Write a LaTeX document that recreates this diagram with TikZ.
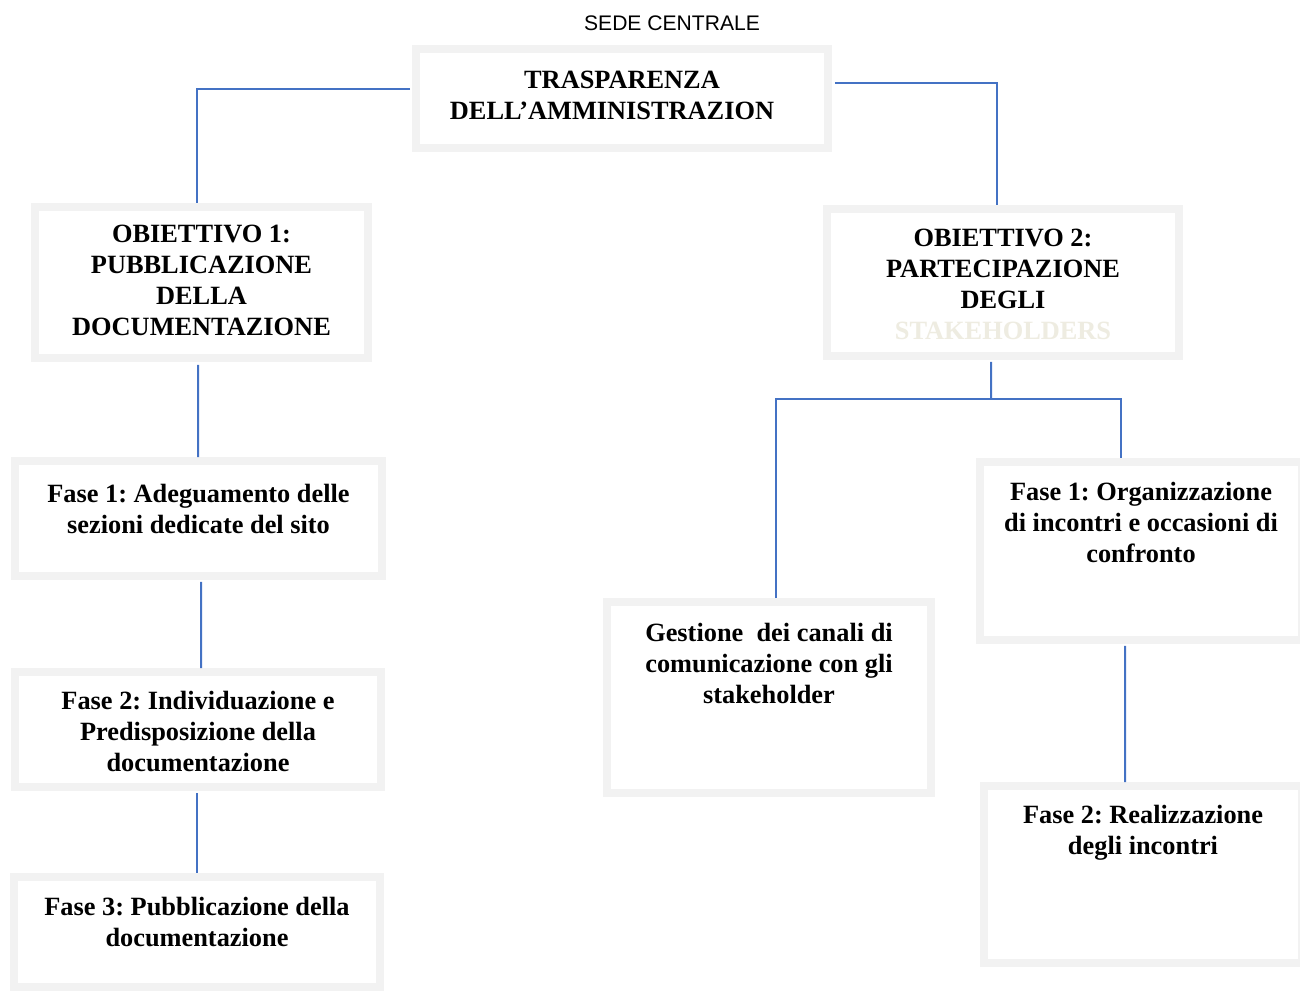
\documentclass[tikz,border=0pt]{standalone}
\usepackage{fontspec}
\setmainfont{Liberation Serif}
\setsansfont{Liberation Sans}
\usetikzlibrary{positioning}
\definecolor{framegray}{RGB}{242,242,242}
\definecolor{linkblue}{RGB}{68,114,196}
\definecolor{paletext}{RGB}{238,236,225}
\frenchspacing

\begin{document}
\begin{tikzpicture}[
    x=0.02cm, y=0.02cm,
    framebox/.style={draw=framegray, line width=0.16cm, fill=white, inner sep=0pt},
    boxtext/.style={align=center, inner sep=0pt, font=\fontsize{15}{17.6}\selectfont\bfseries},
    conn/.style={draw=linkblue, line width=0.04cm},
]
\useasboundingbox (0,0) rectangle (1300,-990);

% ============ HEAD ============
\node[font=\sffamily\fontsize{12}{14}\selectfont, anchor=base] (sede) at (672,-31) {SEDE CENTRALE};

\node[framebox, minimum width=8.24cm, minimum height=1.98cm] (trasp) at (622,-98.5) {};
\node[boxtext, below=0.52cm of trasp.north] (trasptext) {TRASPARENZA\\DELL'AMMINISTRAZION\hspace*{0.4cm}};

% ============ OBIETTIVI ============
\node[framebox, minimum width=6.66cm, minimum height=3.02cm] (obj1) at (201.5,-282.5) {};
\node[boxtext, below=0.44cm of obj1.north] (obj1text) {OBIETTIVO 1:\\PUBBLICAZIONE\\DELLA\\DOCUMENTAZIONE};

\node[framebox, minimum width=7.04cm, minimum height=2.94cm] (obj2) at (1003,-282.5) {};
\node[boxtext, below=0.48cm of obj2.north] (obj2text) {OBIETTIVO 2:\\PARTECIPAZIONE\\DEGLI\\{\color{paletext}STAKEHOLDERS}};

% ============ FASI OBIETTIVO 1 ============
\node[framebox, minimum width=7.34cm, minimum height=2.30cm] (fase1L) at (198.5,-518.5) {};
\node[boxtext, below=0.54cm of fase1L.north] (fase1Ltext) {Fase 1: Adeguamento delle\\sezioni dedicate del sito};

\node[framebox, minimum width=7.32cm, minimum height=2.30cm] (fase2L) at (198,-729.5) {};
\node[boxtext, below=0.46cm of fase2L.north] (fase2Ltext) {Fase 2: Individuazione e\\Predisposizione della\\documentazione};

\node[framebox, minimum width=7.32cm, minimum height=2.20cm] (fase3L) at (197,-932) {};
\node[boxtext, below=0.48cm of fase3L.north] (fase3Ltext) {Fase 3: Pubblicazione della\\documentazione};

% ============ FASI OBIETTIVO 2 ============
\node[framebox, minimum width=6.48cm, minimum height=3.82cm] (gest) at (769,-697.5) {};
\node[boxtext, below=0.50cm of gest.north] (gesttext) {Gestione\ \ dei canali di\\comunicazione con gli\\stakeholder};

\node[framebox, minimum width=6.44cm, minimum height=3.56cm] (fase1R) at (1141,-551) {};
\node[boxtext, below=0.48cm of fase1R.north] (fase1Rtext) {Fase 1: Organizzazione\\di incontri e occasioni di\\confronto};

\node[framebox, minimum width=6.36cm, minimum height=3.54cm] (fase2R) at (1143,-874.5) {};
\node[boxtext, below=0.46cm of fase2R.north] (fase2Rtext) {Fase 2: Realizzazione\\degli incontri};

% ============ CONNECTORS ============
\draw[conn] ([xshift=-0.04cm,yshift=0.19cm]trasp.west) -| ([xshift=-0.09cm]obj1.north);
\draw[conn] ([xshift=0.06cm,yshift=0.31cm]trasp.east) -| ([xshift=-0.12cm]obj2.north);

\draw[conn] ([xshift=-0.07cm,yshift=-0.06cm]obj1.south) -- ([xshift=-0.01cm]fase1L.north);
\draw[conn] ([xshift=0.05cm,yshift=-0.04cm]fase1L.south) -- ([xshift=0.06cm]fase2L.north);
\draw[conn] ([xshift=-0.02cm,yshift=-0.04cm]fase2L.south) -- (fase3L.north);

\coordinate (fork) at (991,-399);
\draw[conn] ([xshift=-0.24cm,yshift=-0.04cm]obj2.south) -- (fork);
\draw[conn] ([xshift=0.14cm]gest.north) |- (fork) -| ([xshift=-0.4cm]fase1R.north);
\draw[conn] ([xshift=-0.32cm,yshift=-0.04cm]fase1R.south) -- ([xshift=-0.36cm]fase2R.north);

\end{tikzpicture}
\end{document}
